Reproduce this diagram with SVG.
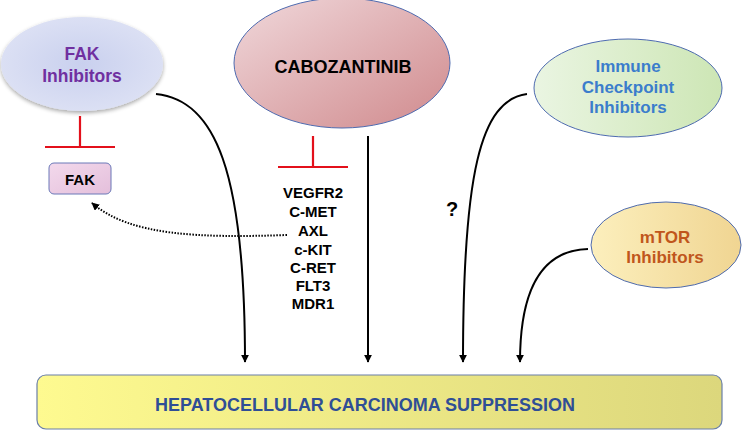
<svg xmlns="http://www.w3.org/2000/svg" width="742" height="430" viewBox="0 0 742 430">
<style>
  text { font-family: "Liberation Sans", Arial, sans-serif; font-weight: bold; text-anchor: middle; }
  .conn { fill: none; stroke: #000; stroke-width: 2; }
  .dot { fill: none; stroke: #000; stroke-width: 2; stroke-dasharray: 1.5 1.5; }
  .inh { fill: none; stroke: #e3101b; stroke-width: 2.2; }
  .tgt { font-size: 15px; fill: #000; }
</style>
<defs>
  <radialGradient id="gFak" cx="0.5" cy="0.5" r="0.6">
    <stop offset="0" stop-color="#c9d0ee"/>
    <stop offset="1" stop-color="#dfe3f5"/>
  </radialGradient>
  <linearGradient id="gCabo" x1="0" y1="0" x2="1" y2="1">
    <stop offset="0" stop-color="#f0d8db"/>
    <stop offset="1" stop-color="#d08a8d"/>
  </linearGradient>
  <linearGradient id="gImm" x1="0" y1="0" x2="1" y2="0">
    <stop offset="0" stop-color="#eaf5e2"/>
    <stop offset="1" stop-color="#cde6b5"/>
  </linearGradient>
  <linearGradient id="gMtor" x1="0" y1="0" x2="1" y2="0">
    <stop offset="0" stop-color="#fcefbd"/>
    <stop offset="1" stop-color="#f0d592"/>
  </linearGradient>
  <linearGradient id="gBox" x1="0" y1="0" x2="1" y2="0">
    <stop offset="0" stop-color="#fefa90"/>
    <stop offset="1" stop-color="#dcd77c"/>
  </linearGradient>
  <linearGradient id="gFakBox" x1="0" y1="0" x2="1" y2="1">
    <stop offset="0" stop-color="#f3d9ec"/>
    <stop offset="1" stop-color="#e4bfdb"/>
  </linearGradient>
  <filter id="sh" x="-10%" y="-10%" width="120%" height="130%">
    <feGaussianBlur in="SourceAlpha" stdDeviation="2"/>
    <feOffset dx="0" dy="2" result="b"/>
    <feComponentTransfer><feFuncA type="linear" slope="0.35"/></feComponentTransfer>
    <feMerge><feMergeNode/><feMergeNode in="SourceGraphic"/></feMerge>
  </filter>
  <marker id="arr" viewBox="0 0 10 10" refX="9" refY="5" markerWidth="4" markerHeight="4" orient="auto" markerUnits="strokeWidth">
    <path d="M0 0 L10 5 L0 10 z" fill="#000"/>
  </marker>
</defs>

<g id="fak-inhibitors">
  <ellipse cx="82" cy="64" rx="81" ry="47" fill="url(#gFak)" filter="url(#sh)"/>
  <text x="82" y="60" font-size="17.5" fill="#7030a0">FAK</text>
  <text x="82" y="82" font-size="17.5" fill="#7030a0">Inhibitors</text>
</g>

<g id="fak">
  <rect x="49" y="163" width="62" height="31" rx="5" fill="url(#gFakBox)" stroke="#6a78b8" stroke-width="1"/>
  <text x="80" y="185" font-size="15" fill="#000">FAK</text>
</g>

<g id="cabozantinib">
  <ellipse cx="342" cy="63" rx="108" ry="65" fill="url(#gCabo)" stroke="#4e6bb0" stroke-width="1"/>
  <text x="343" y="73" font-size="18" fill="#000">CABOZANTINIB</text>
</g>

<g id="targets">
  <text class="tgt" x="313" y="198">VEGFR2</text>
  <text class="tgt" x="313" y="217">C-MET</text>
  <text class="tgt" x="313" y="236">AXL</text>
  <text class="tgt" x="313" y="255">c-KIT</text>
  <text class="tgt" x="313" y="273">C-RET</text>
  <text class="tgt" x="313" y="291">FLT3</text>
  <text class="tgt" x="313" y="309">MDR1</text>
</g>

<g id="immune-checkpoint-inhibitors">
  <ellipse cx="628" cy="88" rx="94" ry="49" fill="url(#gImm)" stroke="#4e6bb0" stroke-width="1"/>
  <text x="628" y="72" font-size="17" fill="#3b7dcc">Immune</text>
  <text x="628" y="93" font-size="17" fill="#3b7dcc">Checkpoint</text>
  <text x="628" y="113" font-size="17" fill="#3b7dcc">Inhibitors</text>
</g>

<g id="mtor-inhibitors">
  <ellipse cx="666" cy="245" rx="75" ry="43" fill="url(#gMtor)" stroke="#4e6bb0" stroke-width="1"/>
  <text x="665" y="243" font-size="17" fill="#c0561c">mTOR</text>
  <text x="665" y="263" font-size="17" fill="#c0561c">Inhibitors</text>
</g>

<g id="hcc-suppression">
  <rect x="37" y="375" width="685" height="54" rx="9" fill="url(#gBox)" stroke="#6a7fa8" stroke-width="1.2"/>
  <text x="365" y="411" font-size="18" fill="#2f4e96" textLength="420" lengthAdjust="spacingAndGlyphs">HEPATOCELLULAR CARCINOMA SUPPRESSION</text>
</g>

<g id="question">
  <text x="452" y="216" font-size="20" fill="#000">?</text>
</g>

<g id="connectors">
  <path class="inh" d="M80 116 V147 M45 147 H115"/>
  <path class="inh" d="M313 136 V167 M278 167 H348"/>
  <path class="conn" d="M156 94 C215 100 245 170 245 362" marker-end="url(#arr)"/>
  <path class="conn" d="M368 136 L368 362" marker-end="url(#arr)"/>
  <path class="conn" d="M527 94 C480 100 463 175 463 362" marker-end="url(#arr)"/>
  <path class="conn" d="M588 249 C545 250 520 285 520 362" marker-end="url(#arr)"/>
  <path class="dot" d="M287 235 C200 238 130 236 92 203" marker-end="url(#arr)"/>
</g>
</svg>
